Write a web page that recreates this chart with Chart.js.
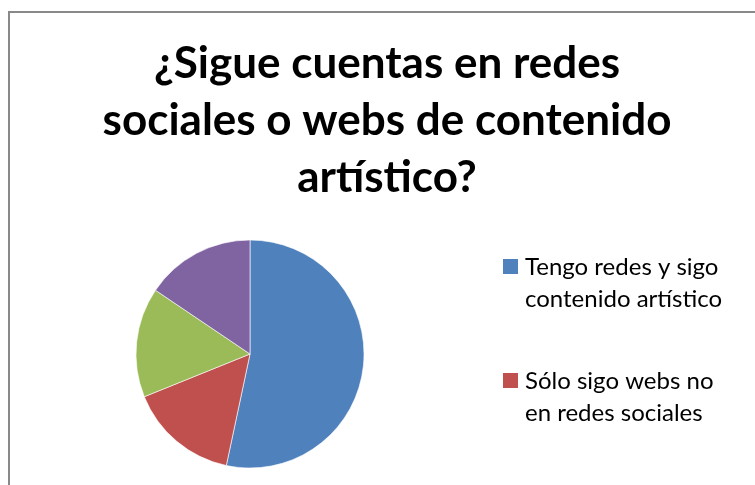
<!DOCTYPE html>
<html lang="es">
<head>
    <meta charset="UTF-8">
    <title>¿Sigue cuentas en redes sociales o webs de contenido artístico?</title>
    <script src="https://cdn.jsdelivr.net/npm/chart.js"></script>
    <style>
        body {
            margin: 0;
            background: #ffffff;
            overflow: hidden;
        }

        .chart-frame {
            position: absolute;
            left: 8px;
            top: 11px;
            width: 758px;
            height: 640px;
            border: 2px solid #898989;
            box-sizing: border-box;
            background: #ffffff;
        }

        .chart-frame canvas {
            display: block;
        }
    </style>
</head>
<body>
<div class="chart-frame">
    <canvas id="redes-chart" width="754" height="636"></canvas>
</div>

<script>
    // respuestas de la encuesta
    const categorias = [
        ['Tengo redes y sigo', 'contenido artístico'],
        ['Sólo sigo webs no', 'en redes sociales'],
        ['Tengo redes pero no', 'sigo contenido artístico'],
        ['No sigo contenido', 'artístico']
    ];
    const respuestas = [24, 7, 7, 7];
    const colores = ['#4F81BD', '#C0504D', '#9BBB59', '#8064A2'];
    const titulo = ['¿Sigue cuentas en redes', 'sociales o webs de contenido', 'artístico?'];

    // caja de leyenda a la derecha; las etiquetas ocupan varias líneas,
    // así que se dibuja a mano en lugar de usar la leyenda integrada
    const leyendaLateral = {
        id: 'leyendaLateral',
        beforeInit(chart) {
            const box = {
                position: 'right',
                weight: 10,
                fullSize: false,
                options: {},
                width: 0, height: 0, left: 0, top: 0, right: 0, bottom: 0,
                isHorizontal() { return false; },
                update(maxWidth, maxHeight) {
                    this.width = 274;
                    this.height = maxHeight;
                },
                draw() {
                    const ctx = chart.ctx;
                    const boxX = this.left + 13, textX = this.left + 35;
                    const lineGap = 32, itemGap = 50;
                    let top = chart.chartArea.top + 51;
                    ctx.save();
                    ctx.font = '24px Lato';
                    ctx.textBaseline = 'alphabetic';
                    ctx.textAlign = 'left';
                    chart.data.labels.forEach((label, i) => {
                        ctx.fillStyle = chart.data.datasets[0].backgroundColor[i];
                        ctx.fillRect(boxX, top, 15, 15);
                        ctx.fillStyle = '#000000';
                        label.forEach((line, j) => {
                            ctx.fillText(line, textX, top + 16 + j * lineGap);
                        });
                        top += label.length * lineGap + itemGap;
                    });
                    ctx.restore();
                }
            };
            Chart.layouts.addBox(chart, box);
        }
    };

    new Chart(document.getElementById('redes-chart'), {
        type: 'pie',
        data: {
            labels: categorias,
            datasets: [{
                data: respuestas,
                backgroundColor: colores,
                borderColor: 'rgba(255,255,255,0.6)',
                borderWidth: 1
            }]
        },
        options: {
            responsive: false,
            animation: false,
            radius: 114,
            layout: {
                padding: { left: 0, right: 0, top: 0, bottom: 149 }
            },
            plugins: {
                legend: { display: false },
                tooltip: { enabled: false },
                title: {
                    display: true,
                    text: titulo,
                    color: '#000000',
                    font: { family: 'Lato', size: 44, weight: 'bold', lineHeight: '57px' },
                    padding: { top: 22, bottom: 2 }
                }
            }
        },
        plugins: [leyendaLateral]
    });
</script>
</body>
</html>
